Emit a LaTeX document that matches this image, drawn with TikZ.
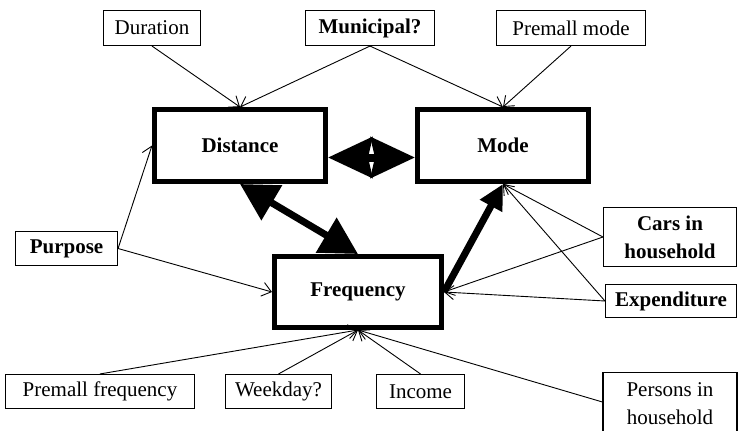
\documentclass[tikz,border=0pt]{standalone}
\usepackage{fontspec}
\setmainfont{Liberation Serif}
\usetikzlibrary{arrows.meta}

\begin{document}
\begin{tikzpicture}[
  x=1pt, y=-1pt,
  font=\fontsize{21}{28}\selectfont,
  varbox/.style={draw, line width=1.1pt, inner sep=0pt, align=center},
  keyvar/.style={varbox, font=\fontsize{21}{28}\selectfont\bfseries},
  corebox/.style={draw, line width=5pt, inner sep=0pt,
                  font=\fontsize{21}{28}\selectfont\bfseries},
  infl/.style={-{Straight Barb[length=9pt,width=14pt]}, line width=0.9pt},
  link/.style={line width=7pt,
               {Triangle[length=37pt,width=39pt]}-{Triangle[length=37pt,width=39pt]}},
  push/.style={line width=7pt, -{Triangle[length=25pt,width=24pt]}},
  mutual/.style={line width=8pt,
                 {Stealth[length=44pt,width=40pt,inset=4pt]}-{Stealth[length=44pt,width=40pt,inset=4pt]}}
]

% ── Frame: same size as the page ───────────────────────────────
\useasboundingbox (0,0) rectangle (739,431);
\clip (0,0) rectangle (739,431);

% ── Top row: what feeds Distance and Mode ──────────────────────
\node[varbox, minimum width=97pt,  minimum height=35pt] (dur)   at (152,28)  {Duration};
\node[keyvar, minimum width=129pt, minimum height=35pt] (muni)  at (370,28)  {Municipal?};
\node[varbox, minimum width=149pt, minimum height=35pt] (pmode) at (571,28)  {Premall mode};

% ── Core choices (thick boxes) ─────────────────────────────────
\node[corebox, minimum width=171pt, minimum height=72pt] (dist) at (240,145.5) {Distance};
\node[corebox, minimum width=171pt, minimum height=72pt] (mode) at (503,145.5) {Mode};
\node[corebox, minimum width=167pt, minimum height=71pt] (freq) at (358,292)   {Frequency};

% ── Side variables ─────────────────────────────────────────────
\node[keyvar, minimum width=102pt, minimum height=34pt] (purp) at (66.5,248.5) {Purpose};
\node[keyvar, minimum width=133pt, minimum height=59pt] (cars) at (670,237)    {Cars in\\household};
\node[keyvar, minimum width=131pt, minimum height=33pt] (expd) at (671,301)    {Expenditure};

% ── Bottom row: what feeds Frequency (last box runs off the page)
\node[varbox, minimum width=189pt, minimum height=34pt] (pfreq) at (100,391.5)   {Premall frequency};
\node[varbox, minimum width=106pt, minimum height=34pt] (wday)  at (278.5,391.5) {Weekday?};
\node[varbox, minimum width=88pt,  minimum height=34pt] (inc)   at (420.5,391.5) {Income};
\node[varbox, anchor=north, minimum width=134pt, inner ysep=10pt, text depth=70pt]
  (pers) at (670,372) {Persons in\\household};

% ── Thin influence arrows ──────────────────────────────────────
\draw[infl] (dur.south)   -- (dist.north);
\draw[infl] (muni.south)  -- (dist.north);
\draw[infl] (muni.south)  -- (mode.north);
\draw[infl] (pmode.south) -- (mode.north);
\draw[infl] (purp.east)   -- (dist.west);
\draw[infl] (purp.east)   -- (freq.west);
\draw[infl] (cars.west)   -- (mode.south);
\draw[infl] (cars.west)   -- (freq.east);
\draw[infl] (expd.west)   -- (mode.south);
\draw[infl] (expd.west)   -- (freq.east);
\draw[infl] (pfreq.north) -- (freq.south);
\draw[infl] (wday.north)  -- (freq.south);
\draw[infl] (inc.north)   -- (freq.south);
\draw[infl] (pers.north west) ++(0,30) -- (freq.south);

% ── Thick links between the core choices ───────────────────────
\draw[mutual] ([yshift=-12pt]dist.east) -- ([yshift=-12pt]mode.west);
\draw[link] (dist.south) -- (freq.north);
\draw[push] (freq.east)  -- (mode.south);

\end{tikzpicture}
\end{document}
